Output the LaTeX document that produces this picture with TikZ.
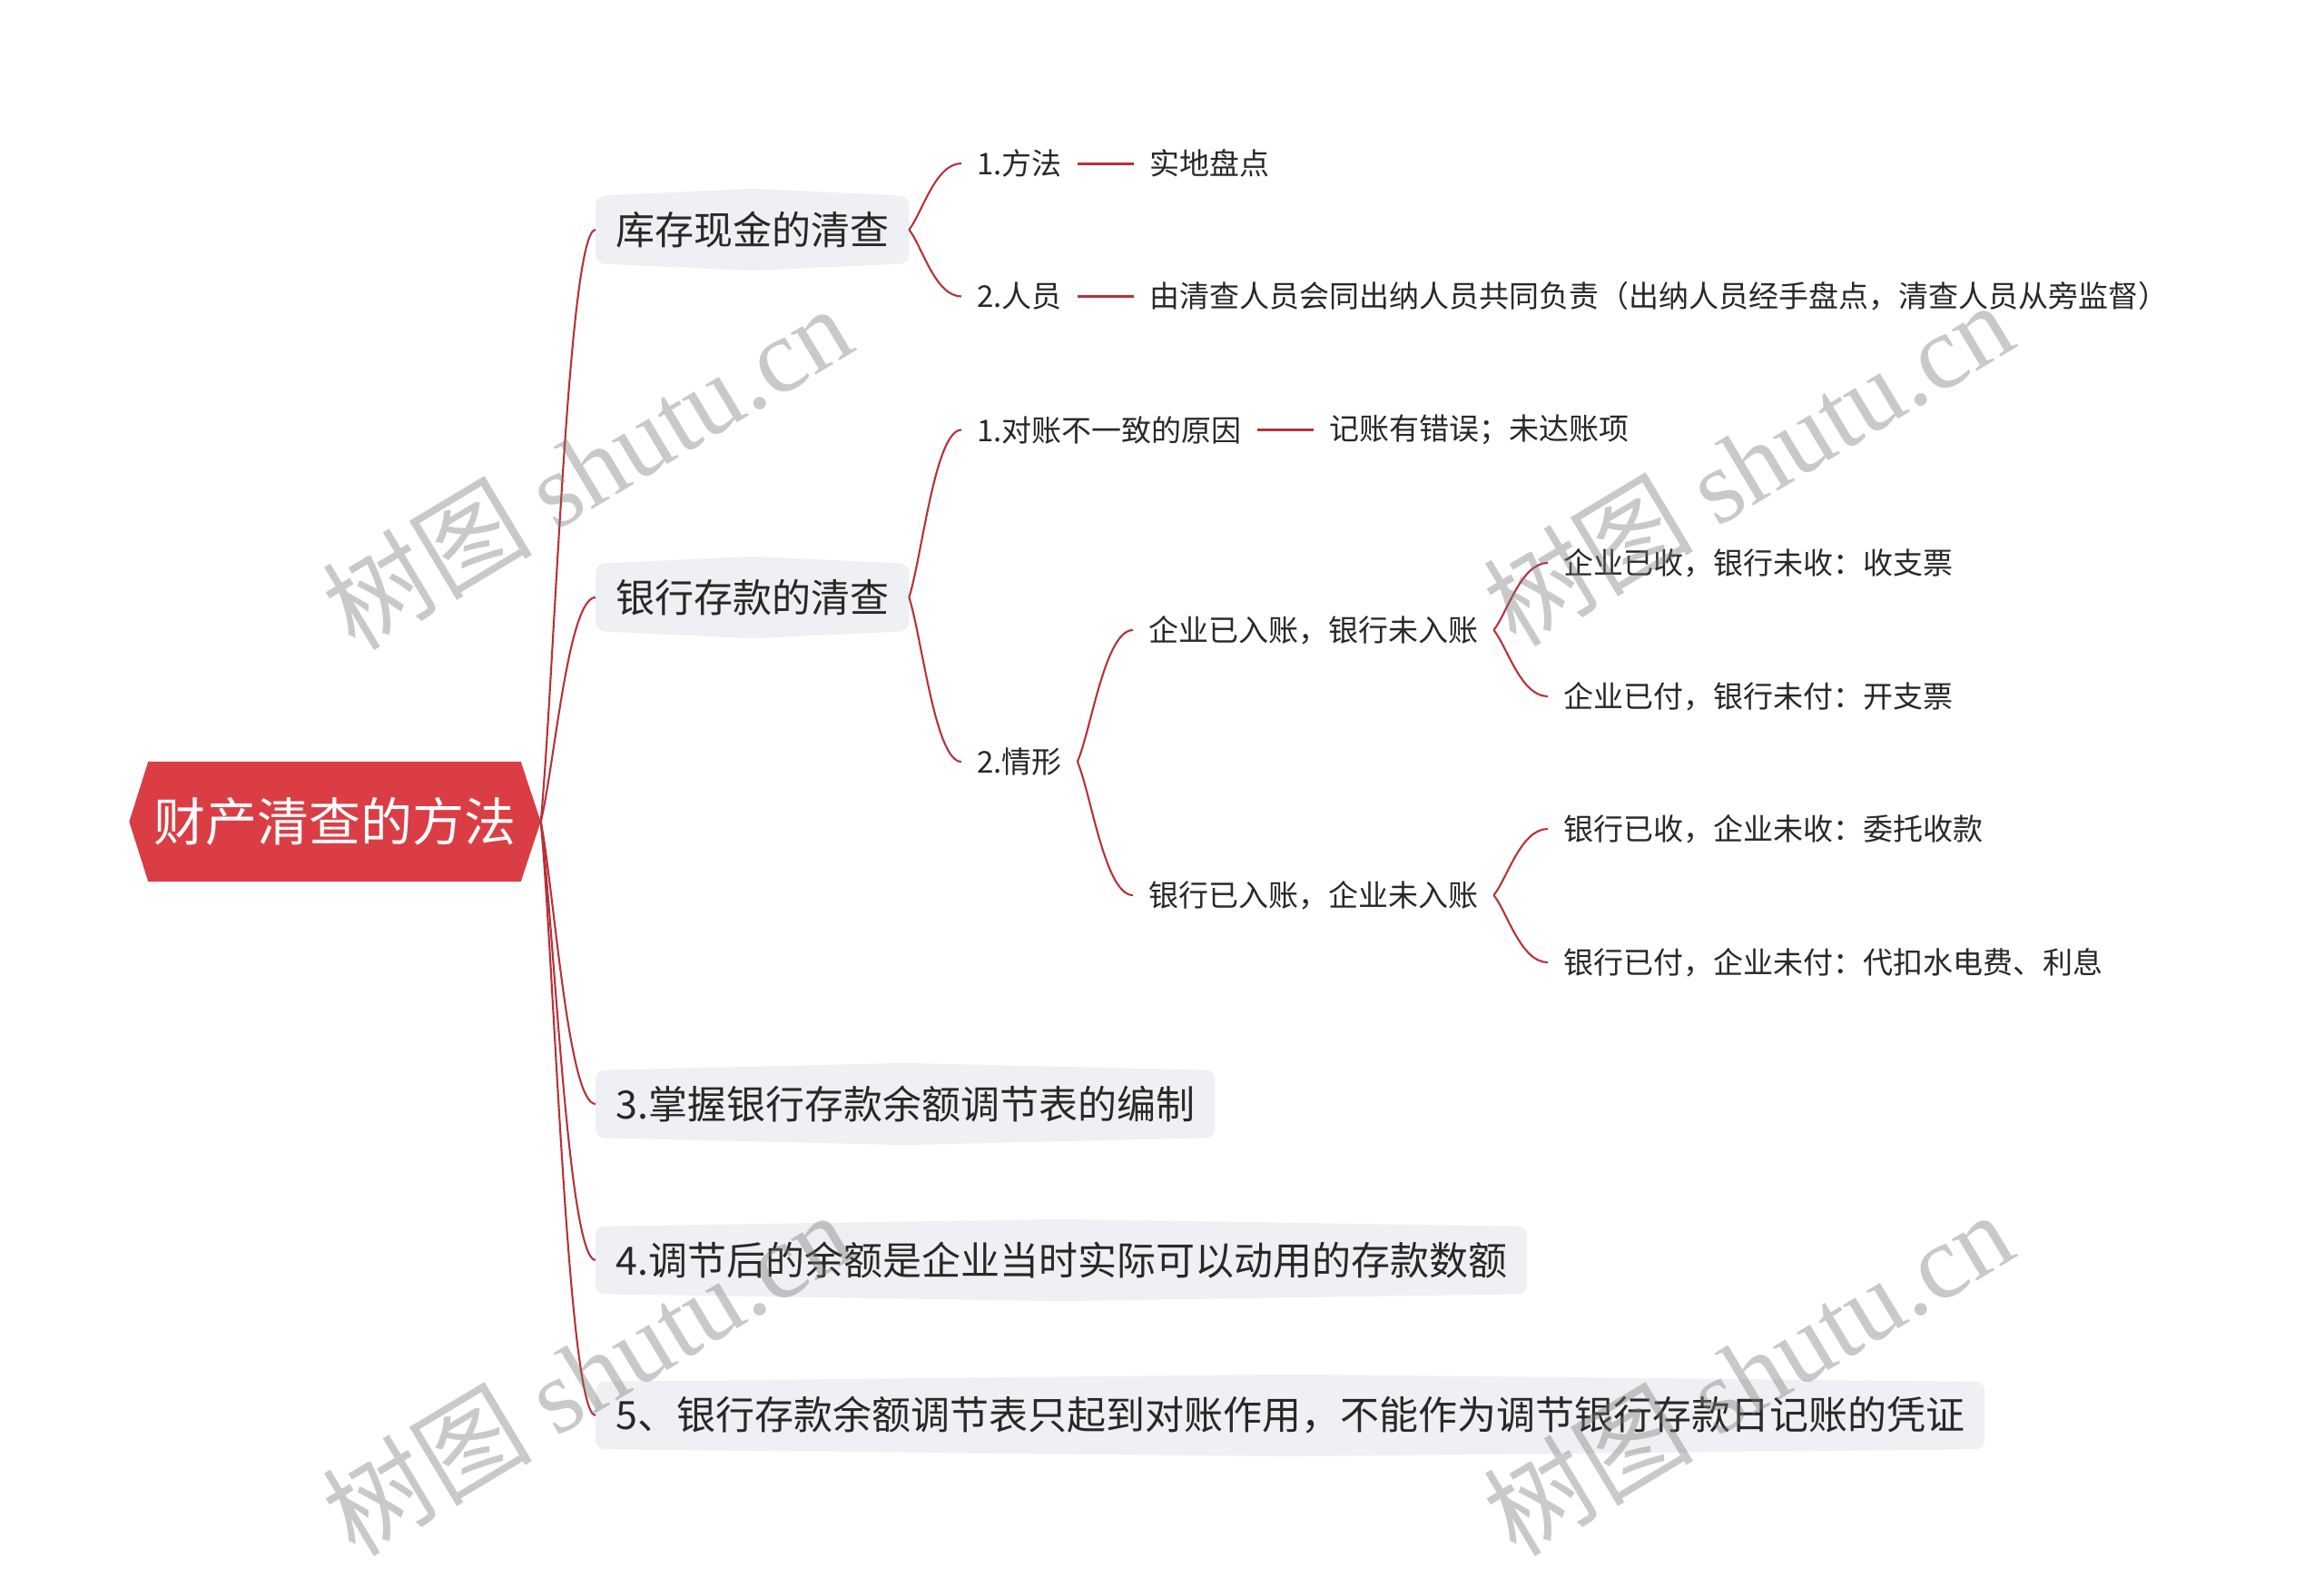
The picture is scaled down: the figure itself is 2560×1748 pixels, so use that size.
\documentclass[tikz,border=0pt]{standalone}
\usepackage{fontspec}
\setmainfont{Noto Sans CJK SC}
\newfontfamily\wmlatin{Liberation Serif}
\usetikzlibrary{calc,backgrounds,positioning}
\definecolor{rootred}{RGB}{219,61,69}
\definecolor{linkred}{RGB}{183,49,56}
\definecolor{boxgray}{RGB}{238,240,243}
\definecolor{txt}{RGB}{40,40,40}
\definecolor{wmgray}{RGB}{120,120,120}
\newcommand\mmlink[2]{\draw[link] (#1) .. controls ($(#1)!0.25!(#2)$) and ($(#2)!0.5!(#1 |- #2)$) .. (#2);}
\begin{document}
\begin{tikzpicture}[x=1pt,y=-1pt,
  rootnode/.style={font=\fontsize{57}{68}\selectfont, text=white, minimum width=410pt, minimum height=132pt, inner sep=0pt},
  lone/.style={anchor=west, font=\fontsize{43}{52}\selectfont, text=txt, inner xsep=22pt, inner ysep=0pt, minimum height=74pt},
  ltwo/.style={anchor=west, font=\fontsize{33}{40}\selectfont, text=txt, inner xsep=17pt, inner ysep=4pt},
  link/.style={draw=linkred, line width=2.1pt},
  straight/.style={draw=linkred, line width=3pt},
  wmark/.style={font=\fontsize{116}{126}\selectfont, text=wmgray, text opacity=0.4, rotate=31}
]
\useasboundingbox (0,0) rectangle (2560,1748);

% root
\node[rootnode] (root) at (368.5,905) {财产清查的方法};
\coordinate (rootR) at ([xshift=22pt]root.east);

% level 1
\node[lone] (a) at (656,253) {库存现金的清查};
\node[lone] (b) at (656,658) {银行存款的清查};
\node[lone] (c) at (656,1216) {3.掌握银行存款余额调节表的编制};
\node[lone] (d) at (656,1388) {4.调节后的余额是企业当时实际可以动用的存款数额};
\node[lone] (e) at (656,1559) {5、银行存款余额调节表只起到对账作用，不能作为调节银行存款日记账的凭证};

% level 2 and deeper
\node[ltwo] (a1) at (1059,180) {1.方法};
\node[ltwo, right=62pt of a1.east, anchor=west] (a1x) {实地盘点};
\node[ltwo] (a2) at (1059,326.5) {2.人员};
\node[ltwo, right=62pt of a2.east, anchor=west] (a2x) {由清查人员会同出纳人员共同负责（出纳人员经手盘点，清查人员从旁监督）};
\node[ltwo] (b1) at (1059,473.5) {1.对账不一致的原因};
\node[ltwo, right=62pt of b1.east, anchor=west] (b1x) {记账有错误；未达账项};
\node[ltwo] (b2) at (1059,839) {2.情形};
\node[ltwo] (b21) at (1248,694) {企业已入账，银行未入账};
\node[ltwo] (b22) at (1248,986) {银行已入账，企业未入账};
\node[ltwo] (b211) at (1705,620) {企业已收，银行未收：收支票};
\node[ltwo] (b212) at (1705,767) {企业已付，银行未付：开支票};
\node[ltwo] (b221) at (1705,913) {银行已收，企业未收：委托收款};
\node[ltwo] (b222) at (1705,1060) {银行已付，企业未付：代扣水电费、利息};

\begin{pgfonlayer}{background}
  \fill[rootred] (root.north west) -- (root.north east) -- (rootR) -- (root.south east) -- (root.south west) -- ([xshift=-21pt]root.west) -- cycle;
  \foreach \n in {a,b,c,d,e}
    \fill[boxgray, rounded corners=10pt] (\n.west) -- (\n.north west) -- ([yshift=8pt]\n.north) -- (\n.north east) -- (\n.south east) -- ([yshift=-8pt]\n.south) -- (\n.south west) -- cycle;
\end{pgfonlayer}

% connectors
\foreach \n in {a,b,c,d,e} {\mmlink{rootR}{\n.west}}
\mmlink{a.east}{a1.west}
\mmlink{a.east}{a2.west}
\mmlink{b.east}{b1.west}
\mmlink{b.east}{b2.west}
\mmlink{b2.east}{b21.west}
\mmlink{b2.east}{b22.west}
\mmlink{b21.east}{b211.west}
\mmlink{b21.east}{b212.west}
\mmlink{b22.east}{b221.west}
\mmlink{b22.east}{b222.west}
\draw[straight] (a1.east) -- (a1x.west);
\draw[straight] (a2.east) -- (a2x.west);
\draw[straight] (b1.east) -- (b1x.west);

% watermarks
\node[wmark] (wm1) at (646,514) {树图 {\wmlatin shutu.cn}};
\node[wmark] (wm2) at (1925,510) {树图 {\wmlatin shutu.cn}};
\node[wmark] (wm3) at (646,1512) {树图 {\wmlatin shutu.cn}};
\node[wmark] (wm4) at (1925,1512) {树图 {\wmlatin shutu.cn}};
\end{tikzpicture}
\end{document}
